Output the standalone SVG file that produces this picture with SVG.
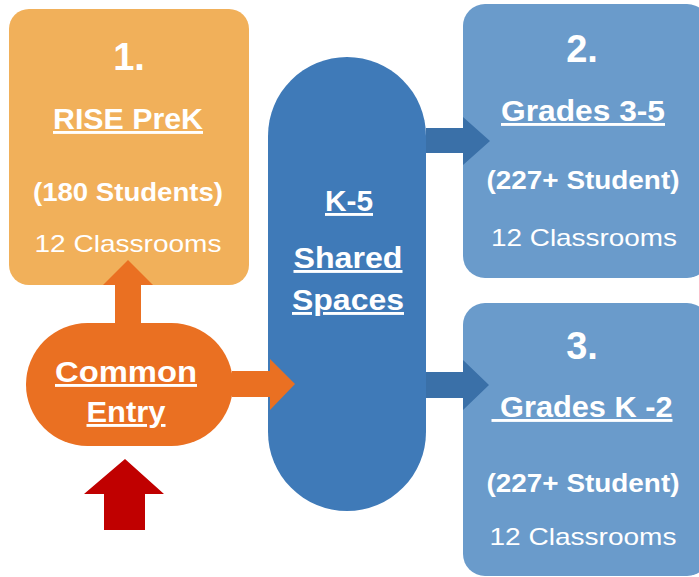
<svg xmlns="http://www.w3.org/2000/svg" width="699" height="577" viewBox="0 0 699 577">
<style>
.t{font-family:"Liberation Sans",Arial,sans-serif;fill:#fff;text-anchor:middle}
.num{font-size:38px;font-weight:bold}
.h{font-size:29px;font-weight:bold;text-decoration:underline}
.s{font-size:26px;font-weight:bold}
.c{font-size:24px}
</style>
<rect width="699" height="577" fill="#fff"/>
<g id="node-prek">
<rect x="9" y="9" width="240" height="276" rx="20" fill="#F1B05A"/>
<text class="t num" x="129" y="70">1.</text>
<text class="t h" x="128" y="129" textLength="150" lengthAdjust="spacingAndGlyphs">RISE PreK</text>
<text class="t s" x="128" y="201" textLength="190" lengthAdjust="spacingAndGlyphs">(180 Students)</text>
<text class="t c" x="128" y="252" textLength="187" lengthAdjust="spacingAndGlyphs">12 Classrooms</text>
</g>
<g id="node-grades35">
<rect x="463" y="4" width="246" height="274" rx="22" fill="#6A9BCB"/>
<text class="t num" x="582" y="62">2.</text>
<text class="t h" x="583" y="121" textLength="164" lengthAdjust="spacingAndGlyphs">Grades 3-5</text>
<text class="t s" x="583" y="189" textLength="193" lengthAdjust="spacingAndGlyphs">(227+ Student)</text>
<text class="t c" x="584" y="246" textLength="186" lengthAdjust="spacingAndGlyphs">12 Classrooms</text>
</g>
<g id="node-gradesk2">
<rect x="463" y="303" width="246" height="273" rx="22" fill="#6A9BCB"/>
<text class="t num" x="582" y="359">3.</text>
<text class="t h" x="582" y="417" textLength="181" lengthAdjust="spacingAndGlyphs">&#160;Grades K -2</text>
<text class="t s" x="583" y="492" textLength="193" lengthAdjust="spacingAndGlyphs">(227+ Student)</text>
<text class="t c" x="583" y="545" textLength="187" lengthAdjust="spacingAndGlyphs">12 Classrooms</text>
</g>
<g id="node-shared">
<rect x="268" y="57" width="158" height="454" rx="79" fill="#3F7AB8"/>
<text class="t h" x="349" y="211" textLength="48" lengthAdjust="spacingAndGlyphs">K-5</text>
<text class="t h" x="348" y="268" textLength="109" lengthAdjust="spacingAndGlyphs">Shared</text>
<text class="t h" x="348" y="310" textLength="112" lengthAdjust="spacingAndGlyphs">Spaces</text>
</g>
<g id="node-entry">
<rect x="26" y="323" width="207" height="123" rx="61.5" fill="#EA7022"/>
<text class="t h" x="126" y="382" textLength="142" lengthAdjust="spacingAndGlyphs">Common</text>
<text class="t h" x="126" y="422" textLength="79" lengthAdjust="spacingAndGlyphs">Entry</text>
</g>
<g id="connectors">
<polygon points="115,324 141,324 141,285 153,285 128,260 103,285 115,285" fill="#EA7022"/>
<polygon points="232,371 270,371 270,359 295,384 270,410 270,397 232,397" fill="#EA7022"/>
<polygon points="426,128 463,128 463,117 490,141 463,165 463,153 426,153" fill="#3A70A8"/>
<polygon points="426,372 463,372 463,360 489,385 463,410 463,398 426,398" fill="#3A70A8"/>
<polygon points="104,530 145,530 145,494 164,494 125,459 84,494 104,494" fill="#C00000"/>
</g>
</svg>
